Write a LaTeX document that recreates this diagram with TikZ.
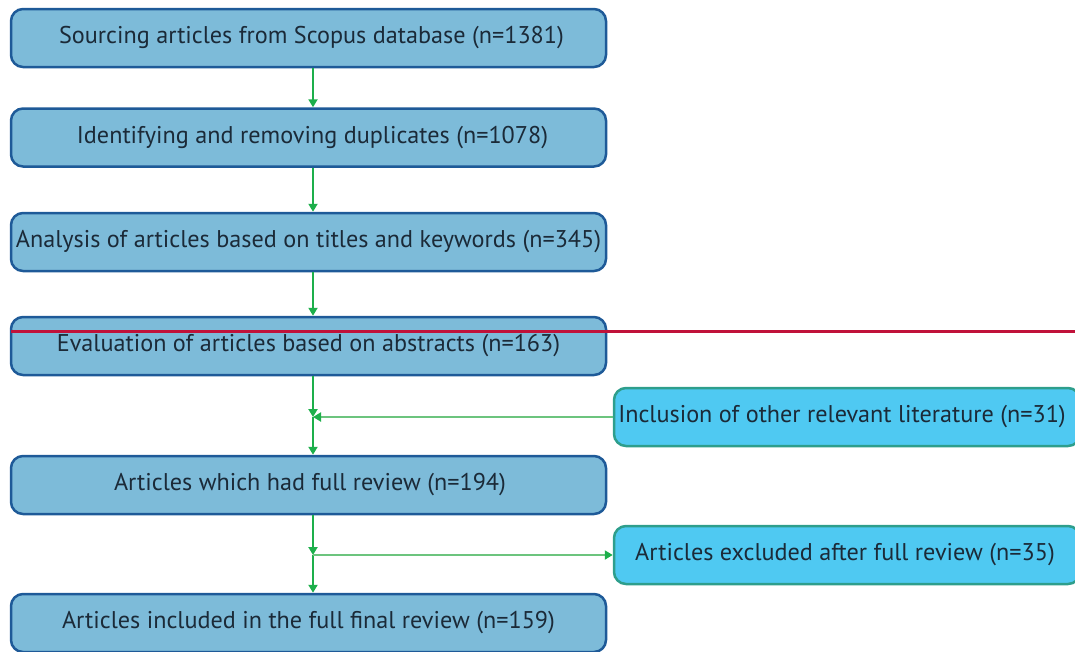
\documentclass[tikz,border=0pt]{standalone}
\usepackage{fontspec}
\setmainfont{PT Sans}
\usetikzlibrary{arrows.meta}
\definecolor{mainfill}{HTML}{7DBBD9}
\definecolor{mainborder}{HTML}{1E5A98}
\definecolor{sidefill}{HTML}{4FC9F2}
\definecolor{sideborder}{HTML}{2E9E8C}
\definecolor{arrgreen}{HTML}{1DAF4B}
\definecolor{sidegreen}{HTML}{6CC47E}
\definecolor{txt}{HTML}{1B2A38}
\definecolor{redline}{HTML}{C0123A}
\tikzset{
  mainbox/.style={draw=mainborder, fill=mainfill, line width=2.5pt, rounded corners=12pt,
    minimum width=595pt, minimum height=58pt, inner sep=0pt, text=txt,
    font=\fontsize{24.2}{28}\selectfont},
  sidebox/.style={draw=sideborder, fill=sidefill, line width=2.5pt, rounded corners=12pt,
    minimum width=466pt, minimum height=58pt, inner sep=0pt, text=txt,
    font=\fontsize{24.2}{28}\selectfont},
  arr/.style={draw=arrgreen, line width=2pt, -{Triangle[width=9pt,length=8pt]}},
  sidearr/.style={draw=sidegreen, line width=2pt, -{Triangle[width=9pt,length=8pt,fill=arrgreen,color=arrgreen]}},
  redrule/.style={draw=redline, line width=3pt}
}
\begin{document}
\begin{tikzpicture}[x=1pt,y=-1pt]
\useasboundingbox (0,0) rectangle (1075,651);
\clip (0,0) rectangle (1075,651);
\node[mainbox] (b1) at (308.5,38) {Sourcing articles from Scopus database (n=1381)\hspace*{-6pt}};
\node[mainbox] (b2) at (308.5,137.5) {Identifying and removing duplicates (n=1078)\hspace*{-8pt}};
\node[mainbox] (b3) at (308.5,242) {Analysis of articles based on titles and keywords (n=345)};
\node[mainbox] (b4) at (308.5,346) {Evaluation of articles based on abstracts (n=163)};
\node[mainbox] (b5) at (308.5,485) {Articles which had full review (n=194)\hspace*{-3pt}};
\node[mainbox] (b6) at (308.5,623) {Articles included in the full final review (n=159)};
\node[sidebox] (s1) at (847,417) {Inclusion of other relevant literature (n=31)\hspace*{10pt}};
\node[sidebox] (s2) at (847,555) {Articles excluded after full review (n=35)\hspace*{4pt}};
\coordinate (j1) at (313,417);
\coordinate (j2) at (313,555);
\draw[arr] (b1.south -| j1) -- (b2.north -| j1);
\draw[arr] (b2.south -| j1) -- (b3.north -| j1);
\draw[arr] (b3.south -| j1) -- (b4.north -| j1);
\draw[arr] (b4.south -| j1) -- (j1);
\draw[arr] (j1) -- (b5.north -| j1);
\draw[sidearr] (s1.west) -- (j1);
\draw[arr] (b5.south -| j1) -- (j2);
\draw[arr] (j2) -- (b6.north -| j1);
\draw[sidearr] (j2) -- (s2.west);
\coordinate (r0) at (11,331);
\coordinate (r1) at (1075,331);
\draw[redrule] (r0) -- (r1);
\end{tikzpicture}
\end{document}
